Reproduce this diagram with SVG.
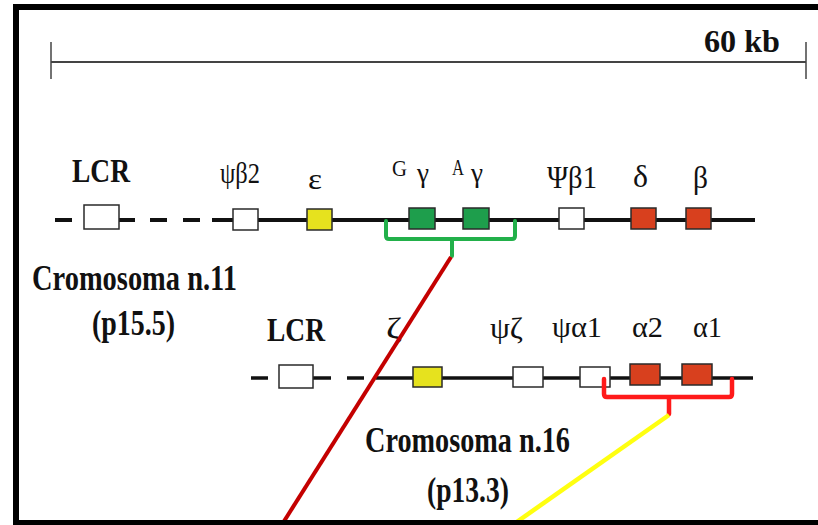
<svg xmlns="http://www.w3.org/2000/svg" width="818" height="525" viewBox="0 0 818 525">
  <style>
    .lbl { font-family: "Liberation Serif", "DejaVu Serif", serif; font-weight: bold; fill: #111; }
    .gr { font-family: "Liberation Serif", "DejaVu Serif", serif; fill: #111; }
    .chr { stroke: #111; fill: none; }
    .box { stroke: #2a2a2a; stroke-width: 1.5; }
    .w { fill: #ffffff; }
    .y { fill: #e6e21e; }
    .g { fill: #1e9e4c; }
    .r { fill: #d8401e; }
  </style>
  <rect x="0" y="0" width="818" height="525" fill="#ffffff"/>

  <!-- scale bar -->
  <g id="scale">
    <line x1="51" y1="62" x2="806" y2="62" stroke="#444" stroke-width="2"/>
    <line x1="51" y1="42" x2="51" y2="79" stroke="#444" stroke-width="1.5"/>
    <line x1="806" y1="42" x2="806" y2="79" stroke="#444" stroke-width="1.5"/>
    <text class="lbl" x="704" y="52" font-size="32" textLength="76" lengthAdjust="spacingAndGlyphs">60 kb</text>
  </g>

  <!-- chromosome 11 axis -->
  <g id="chr11">
    <g class="chr" stroke-width="4">
      <line x1="55" y1="220" x2="72" y2="220"/>
      <line x1="119" y1="220" x2="135" y2="220"/>
      <line x1="150" y1="220" x2="167" y2="220"/>
      <line x1="183" y1="220" x2="200" y2="220"/>
      <line x1="212" y1="220" x2="755" y2="220"/>
    </g>
    <text class="lbl" x="32" y="290" font-size="36" textLength="205" lengthAdjust="spacingAndGlyphs">Cromosoma n.11</text>
    <text class="lbl" x="92" y="335" font-size="36" textLength="83" lengthAdjust="spacingAndGlyphs">(p15.5)</text>
  </g>

  <g id="lcr11">
    <rect class="box w" x="84" y="205" width="35" height="24"/>
    <text class="lbl" x="72" y="182" font-size="33" textLength="58" lengthAdjust="spacingAndGlyphs">LCR</text>
  </g>
  <g id="psib2">
    <rect class="box w" x="233" y="209" width="25" height="21"/>
    <text class="gr" x="220" y="183" font-size="29" textLength="40" lengthAdjust="spacingAndGlyphs">ψβ2</text>
  </g>
  <g id="epsilon">
    <rect class="box y" x="307" y="209" width="25" height="21"/>
    <text class="gr" x="308" y="189" font-size="29" textLength="14" lengthAdjust="spacingAndGlyphs">ε</text>
  </g>
  <g id="Ggamma">
    <rect class="box g" x="409" y="208" width="26" height="21"/>
    <text class="gr" x="392" y="176" font-size="23" textLength="15" lengthAdjust="spacingAndGlyphs">G</text>
    <text class="gr" x="417" y="182" font-size="28" textLength="12" lengthAdjust="spacingAndGlyphs">γ</text>
  </g>
  <g id="Agamma">
    <rect class="box g" x="463" y="208" width="26" height="21"/>
    <text class="gr" x="452" y="175" font-size="23" textLength="12" lengthAdjust="spacingAndGlyphs">A</text>
    <text class="gr" x="471" y="182" font-size="28" textLength="12" lengthAdjust="spacingAndGlyphs">γ</text>
  </g>
  <g id="psib1">
    <rect class="box w" x="559" y="208" width="25" height="21"/>
    <text class="gr" x="547" y="188" font-size="31" textLength="50" lengthAdjust="spacingAndGlyphs">Ψβ1</text>
  </g>
  <g id="delta">
    <rect class="box r" x="631" y="208" width="25" height="21"/>
    <text class="gr" x="633" y="187" font-size="31" textLength="15" lengthAdjust="spacingAndGlyphs">δ</text>
  </g>
  <g id="beta">
    <rect class="box r" x="686" y="208" width="25" height="21"/>
    <text class="gr" x="693" y="188" font-size="31" textLength="15" lengthAdjust="spacingAndGlyphs">β</text>
  </g>

  <!-- chromosome 16 axis -->
  <g id="chr16">
    <g class="chr" stroke-width="3.5">
      <line x1="251" y1="378" x2="268" y2="378"/>
      <line x1="313" y1="378" x2="331" y2="378"/>
      <line x1="347" y1="378" x2="364" y2="378"/>
      <line x1="376" y1="378" x2="753" y2="378"/>
    </g>
    <text class="lbl" x="365" y="452" font-size="36" textLength="205" lengthAdjust="spacingAndGlyphs">Cromosoma n.16</text>
    <text class="lbl" x="427" y="502" font-size="36" textLength="82" lengthAdjust="spacingAndGlyphs">(p13.3)</text>
  </g>

  <g id="lcr16">
    <rect class="box w" x="279" y="365" width="34" height="23"/>
    <text class="lbl" x="267" y="341" font-size="33" textLength="58" lengthAdjust="spacingAndGlyphs">LCR</text>
  </g>
  <g id="zeta">
    <rect class="box y" x="413" y="367" width="29" height="20"/>
    <text class="gr" x="386" y="338" font-size="30" textLength="16" lengthAdjust="spacingAndGlyphs">ζ</text>
  </g>
  <g id="psiz">
    <rect class="box w" x="513" y="367" width="30" height="20"/>
    <text class="gr" x="490" y="338" font-size="30" textLength="33" lengthAdjust="spacingAndGlyphs">ψζ</text>
  </g>
  <g id="psia1">
    <rect class="box w" x="580" y="367" width="30" height="20"/>
    <text class="gr" x="552" y="337" font-size="30" textLength="50" lengthAdjust="spacingAndGlyphs">ψα1</text>
  </g>
  <g id="alpha2">
    <rect class="box r" x="630" y="364" width="30" height="21"/>
    <text class="gr" x="632" y="337" font-size="30" textLength="31" lengthAdjust="spacingAndGlyphs">α2</text>
  </g>
  <g id="alpha1">
    <rect class="box r" x="682" y="364" width="30" height="21"/>
    <text class="gr" x="693" y="337" font-size="30" textLength="29" lengthAdjust="spacingAndGlyphs">α1</text>
  </g>

  <!-- brackets and links -->
  <g id="connectors" fill="none" stroke-linejoin="round" stroke-linecap="round">
    <path d="M386 221 V236 Q386 239 389 239 H512 Q515 239 515 236 V221 M452 239 V256" stroke="#22b04a" stroke-width="4"/>
    <path d="M604 379 V394 Q604 397 607 397 H729 Q732 397 732 394 V379 M669 397 V414" stroke="#ff1a1a" stroke-width="4.5"/>
    <line x1="451" y1="257" x2="281" y2="526" stroke="#c40000" stroke-width="4" stroke-linecap="butt"/>
    <line x1="669" y1="415" x2="511" y2="526" stroke="#ffff10" stroke-width="4.5" stroke-linecap="butt"/>
  </g>

  <!-- frame -->
  <rect x="16" y="7" width="820" height="516" fill="none" stroke="#000" stroke-width="6"/>
</svg>
